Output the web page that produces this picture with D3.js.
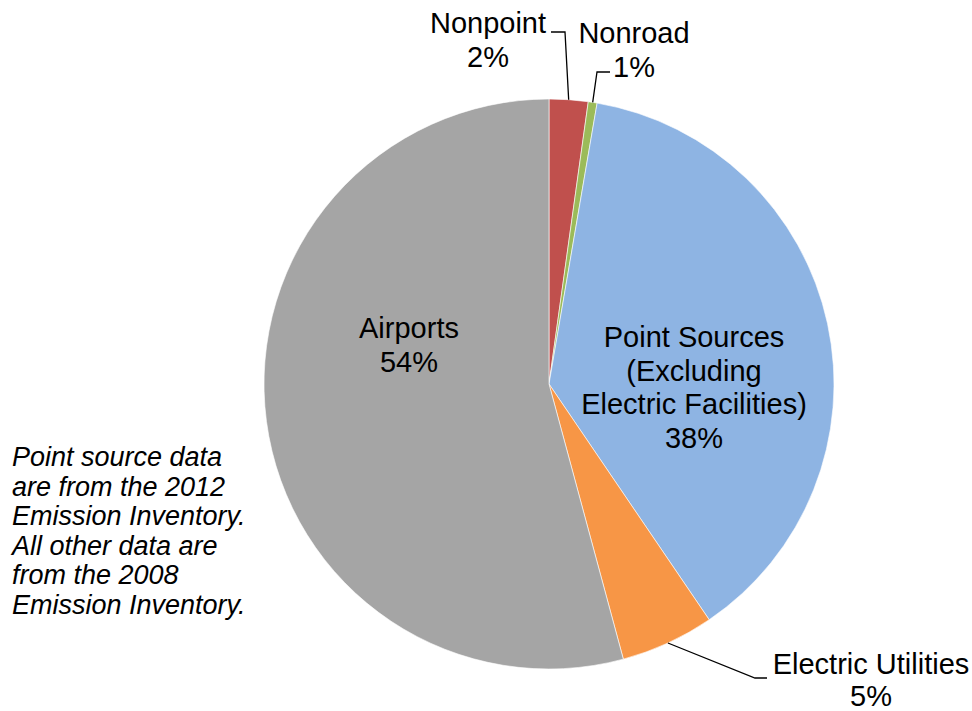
<!DOCTYPE html>
<html>
<head>
<meta charset="utf-8">
<title>emissions by source category</title>
<style>
  body { margin: 0; background: #fff; }
  svg { display: block; font-family: "Liberation Sans", Arial, sans-serif; }
</style>
</head>
<body>
<svg></svg>
<script src="https://d3js.org/d3.v7.min.js"></script>
<script>
// data (percent share, clockwise from 12 o'clock)
const categories = ["Nonpoint", "Nonroad", "Point Sources (Excluding Electric Facilities)", "Electric Utilities", "Airports"];
const values = [2.2, 0.5, 37.8, 5.3, 54.2];
const colors = ["#C0504D", "#9BBB59", "#8EB4E3", "#F79646", "#A5A5A5"];
const labelLines = [
  ["Nonpoint"],
  ["Nonroad"],
  ["Point Sources", "(Excluding", "Electric Facilities)"],
  ["Electric Utilities"],
  ["Airports"]
];
const noteLines = [
  "Point source data",
  "are from the 2012",
  "Emission Inventory.",
  "All other data are",
  "from the 2008",
  "Emission Inventory."
];

let width = 972, height = 711;
let svg = d3.select("svg").attr("width", width).attr("height", height);

let cx = 549, cy = 384, radius = 285;

let pie = d3.pie().sort(null).value(d => d.value);
let arc = d3.arc().innerRadius(0).outerRadius(radius);

let data = categories.map((c, i) => ({ name: c, value: values[i], color: colors[i], lines: labelLines[i] }));
let arcs = pie(data);

let g = svg.append("g").attr("transform", `translate(${cx},${cy})`);

g.selectAll("path")
  .data(arcs)
  .enter()
  .append("path")
  .attr("d", arc)
  .attr("fill", d => d.data.color)
  .attr("stroke", "#fff")
  .attr("stroke-width", 0.6);

// label layout: text anchor point (center x, first baseline) and leader elbow
let labelLayout = {
  "Nonpoint": { x: 488, y: 33, elbow: [[565, 32], [551, 32]] },
  "Nonroad": { x: 634, y: 43, elbow: [[597, 72], [610, 72]] },
  "Point Sources (Excluding Electric Facilities)": { x: 694, y: 347 },
  "Electric Utilities": { x: 871, y: 674, lineH: 31.5, elbow: [[755, 678], [767, 678]] },
  "Airports": { x: 409, y: 338 }
};

let lineH = 33.5;
let fmt = v => Math.round(v) + "%";

arcs.forEach(a => {
  let lay = labelLayout[a.data.name];
  let lh = lay.lineH || lineH;
  let t = svg.append("text")
    .attr("x", lay.x)
    .attr("y", lay.y)
    .attr("text-anchor", "middle")
    .attr("font-size", 29)
    .attr("fill", "#000");
  let lines = a.data.lines.concat([fmt(a.data.value)]);
  lines.forEach((ln, i) => {
    t.append("tspan").attr("x", lay.x).attr("y", lay.y + i * lh).text(ln);
  });

  if (lay.elbow) {
    let mid = (a.startAngle + a.endAngle) / 2;
    let px = cx + radius * Math.sin(mid);
    let py = cy - radius * Math.cos(mid);
    let pts = [[px, py]].concat(lay.elbow);
    svg.append("path")
      .attr("d", d3.line()(pts))
      .attr("fill", "none")
      .attr("stroke", "#000")
      .attr("stroke-width", 1.3);
  }
});

// note
let note = svg.append("text")
  .attr("font-size", 27)
  .attr("font-style", "italic")
  .attr("fill", "#000");
noteLines.forEach((ln, i) => {
  note.append("tspan").attr("x", 12).attr("y", 466 + i * 29.5).text(ln);
});
</script>
</body>
</html>
